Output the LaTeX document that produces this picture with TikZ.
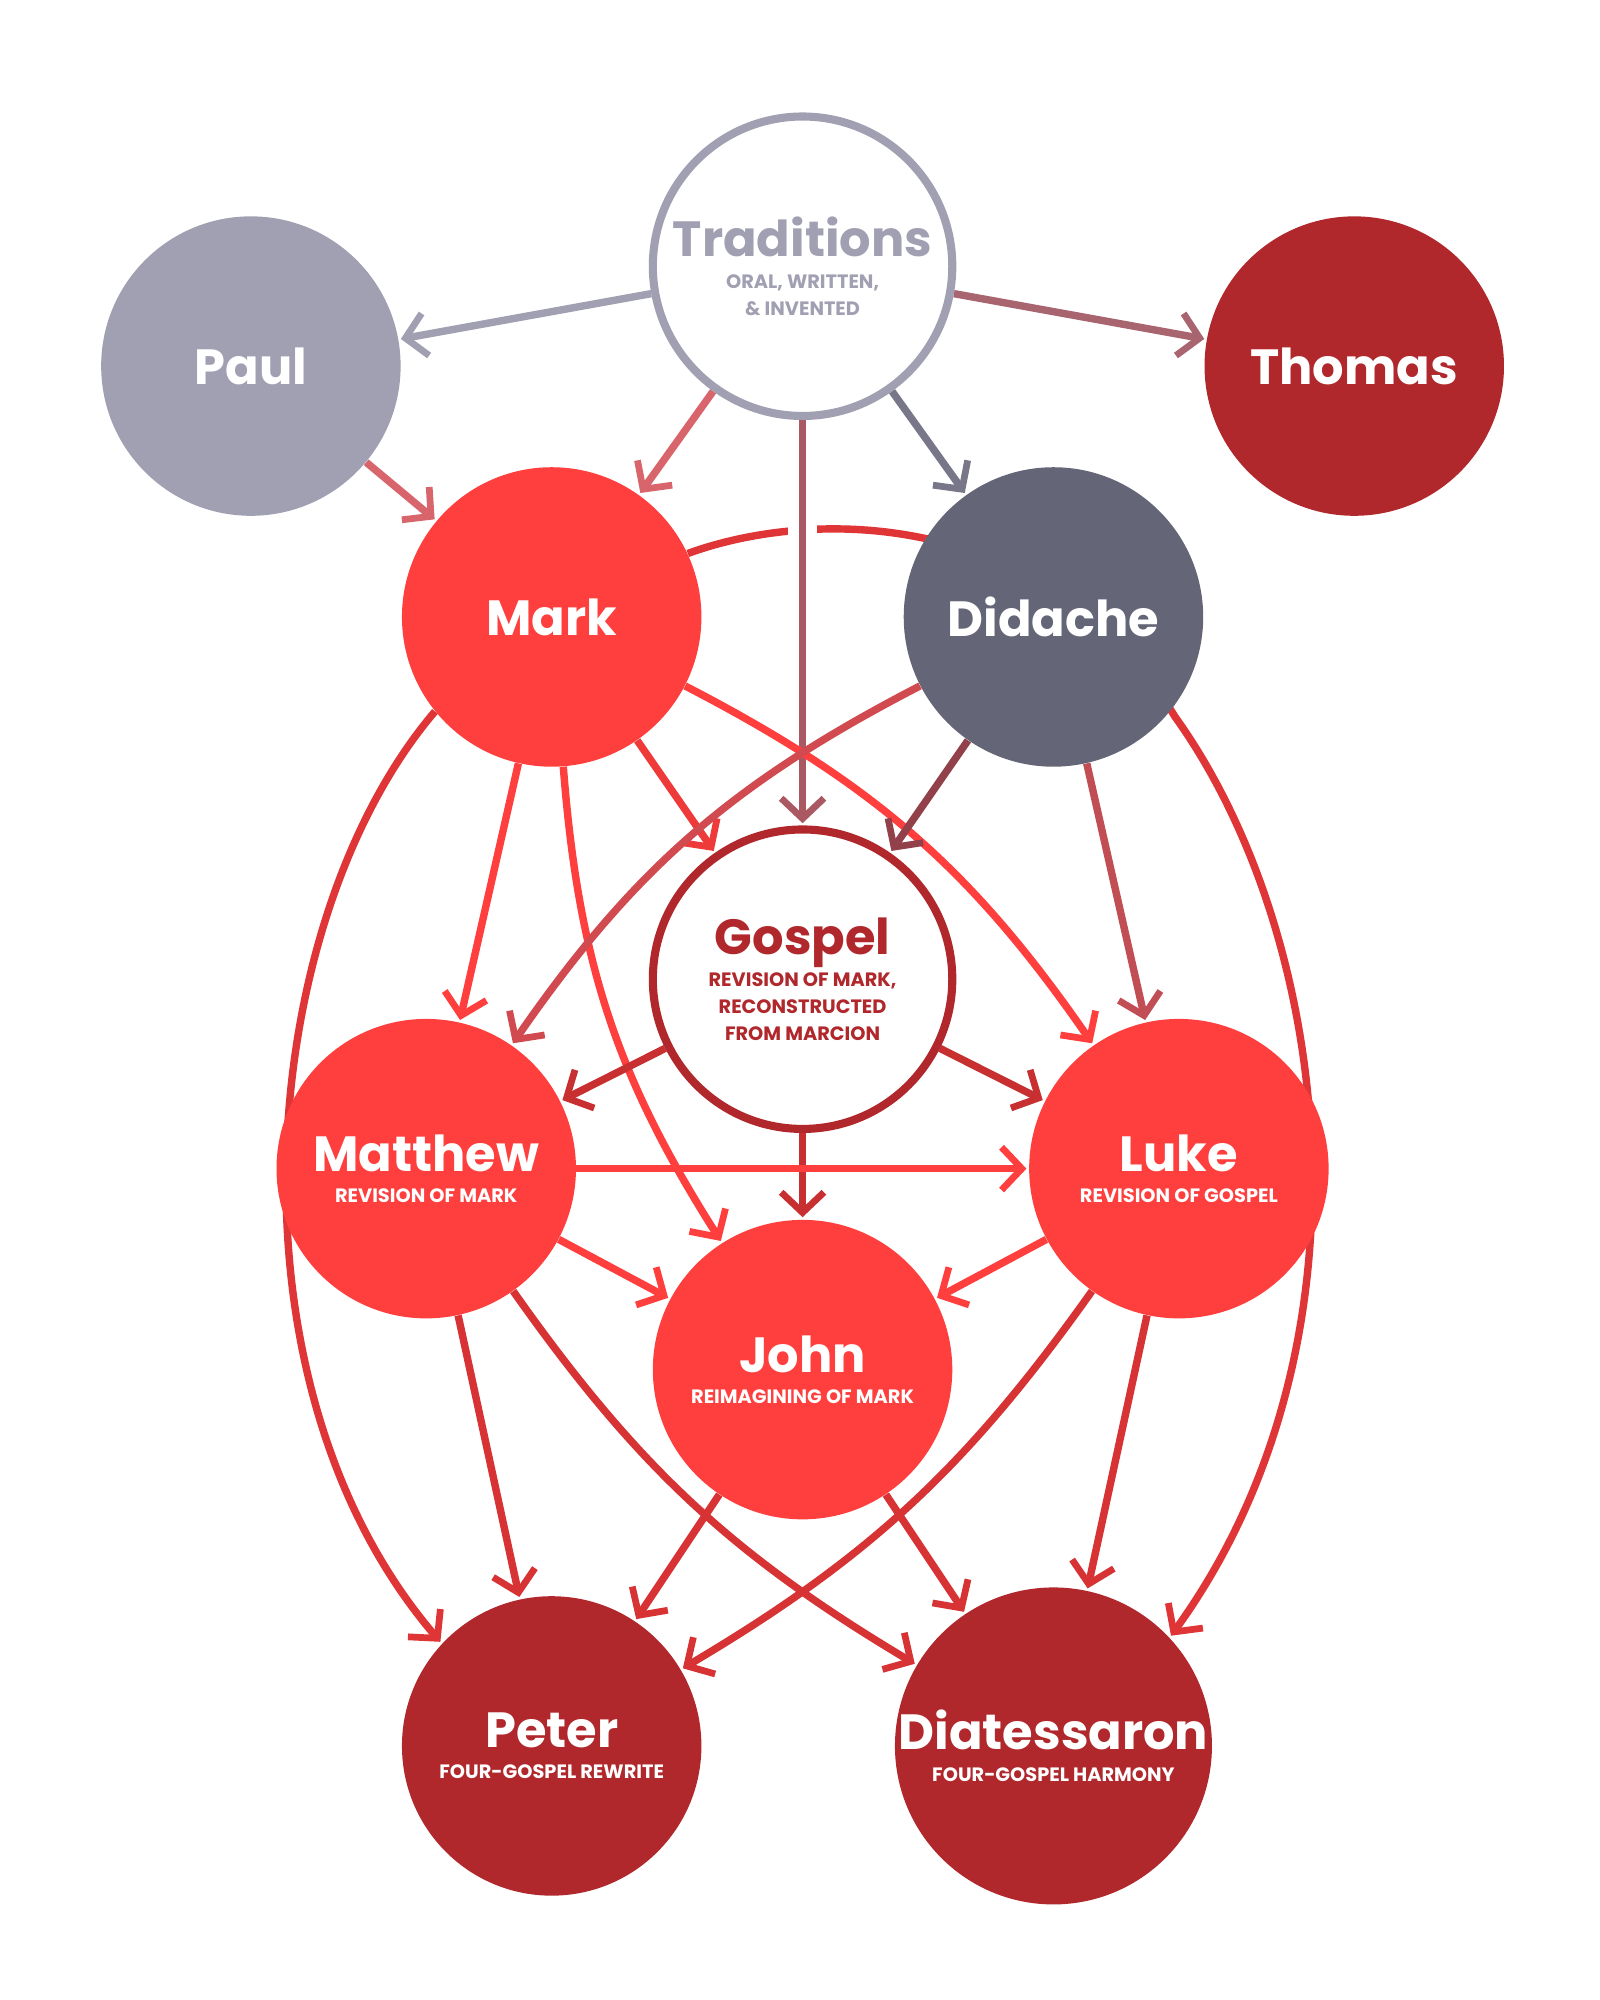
\documentclass[tikz,border=0pt]{standalone}
\usepackage{fontspec}
\setmainfont{Poppins}
\usetikzlibrary{arrows.meta,positioning}
\definecolor{tradgray}{HTML}{A0A0B2}
\definecolor{didgray}{HTML}{656578}
\definecolor{markred}{HTML}{FF3E3E}
\definecolor{deepred}{HTML}{B0282C}
\pgfdeclarelayer{bg}
\pgfsetlayers{bg,main}
\newcommand{\titlefnt}{\fontsize{22}{24}\selectfont\bfseries}
\newcommand{\subfnt}{\fontsize{8.6}{10.5}\selectfont\bfseries}
\begin{document}
\begin{tikzpicture}[%
    x=0.02cm,
    y=-0.02cm,
    >={Straight Barb[length=9pt,width=19pt,line width=3pt]},
    disc/.style={%
      circle,
      minimum size=4.68cm,
      inner sep=0pt,
      align=center,
      text=white
    },
    hollow/.style={disc, fill=white, line width=3.6pt},
    e/.style={->, line width=3.3pt, shorten >=1pt}
  ]
    \useasboundingbox (0,0) rectangle (1250,1562.5);
    \node[hollow, draw=tradgray, text=tradgray] (trad) at (627,208) {\titlefnt Traditions\\[2pt]\subfnt ORAL, WRITTEN,\\\subfnt \& INVENTED};
    \node[disc, fill=tradgray] (paul) at (196,286) {\titlefnt Paul};
    \node[disc, fill=deepred] (thomas) at (1058,286) {\titlefnt Thomas};
    \node[disc, fill=markred] (mark) at (431,482) {\titlefnt Mark};
    \node[disc, fill=didgray] (didache) at (823,482) {\titlefnt Didache};
    \node[hollow, draw=deepred, text=deepred] (gospel) at (627,765) {\titlefnt Gospel\\[2pt]\subfnt REVISION OF MARK,\\\subfnt RECONSTRUCTED\\\subfnt FROM MARCION};
    \node[disc, fill=markred] (matthew) at (333,913) {\titlefnt Matthew\\[2pt]\subfnt REVISION OF MARK};
    \node[disc, fill=markred] (luke) at (921,913) {\titlefnt Luke\\[2pt]\subfnt REVISION OF GOSPEL};
    \node[disc, fill=markred] (john) at (627,1070) {\titlefnt John\\[2pt]\subfnt REIMAGINING OF MARK};
    \node[disc, fill=deepred] (peter) at (431,1364) {\titlefnt Peter\\[2pt]\subfnt FOUR-GOSPEL REWRITE};
    \node[disc, fill=deepred] (diat) at (823,1364) {\titlefnt Diatessaron\\[2pt]\subfnt FOUR-GOSPEL HARMONY};

    \begin{pgfonlayer}{bg}
    % long arcs from Mark
    \draw[e, markred!60!deepred] (mark.219) .. controls (200,720) and (170,1080) .. (peter.137);
    \draw[e, markred!60!deepred] (mark.25) .. controls (640,395) and (820,400) .. (918,560)
                                           .. controls (1040,730) and (1080,1050) .. (diat.43);
    % from Traditions
    \draw[e, tradgray] (trad) -- (paul);
    \draw[e, tradgray!50!deepred] (trad) -- (thomas);
    \draw[e, tradgray!40!markred] (trad) -- (mark);
    \draw[e, tradgray!30!didgray] (trad) -- (didache);
    \draw[e, tradgray!40!deepred, preaction={draw=white, line width=13pt, -}] (trad) -- (gospel);
    \draw[e, tradgray!40!markred] (paul) -- (mark);
    % from Mark
    \draw[e, markred] (mark) -- (matthew);
    \draw[e, markred!80!deepred] (mark) -- (gospel);
    \draw[e, markred] (mark) to[bend left=14] (luke);
    \draw[e, markred] (mark) to[bend right=14] (john);
    % from Didache
    \draw[e, didgray!40!deepred] (didache) -- (gospel);
    \draw[e, didgray!40!markred] (didache) -- (luke);
    \draw[e, didgray!30!markred] (didache) to[bend right=14] (matthew);
    % from Gospel
    \draw[e, deepred!70!markred] (gospel) -- (matthew);
    \draw[e, deepred!70!markred] (gospel) -- (luke);
    \draw[e, deepred!70!markred] (gospel) -- (john);
    % from Matthew and Luke
    \draw[e, markred] (matthew) -- (luke);
    \draw[e, markred] (matthew) -- (john);
    \draw[e, markred] (luke) -- (john);
    \draw[e, markred!50!deepred] (matthew) -- (peter);
    \draw[e, markred!50!deepred] (matthew) to[bend right=12] (diat);
    \draw[e, markred!50!deepred] (luke) -- (diat);
    \draw[e, markred!50!deepred] (luke) to[bend left=12] (peter);
    % from John
    \draw[e, markred!50!deepred] (john) -- (peter);
    \draw[e, markred!50!deepred] (john) -- (diat);
    \end{pgfonlayer}
\end{tikzpicture}
\end{document}
